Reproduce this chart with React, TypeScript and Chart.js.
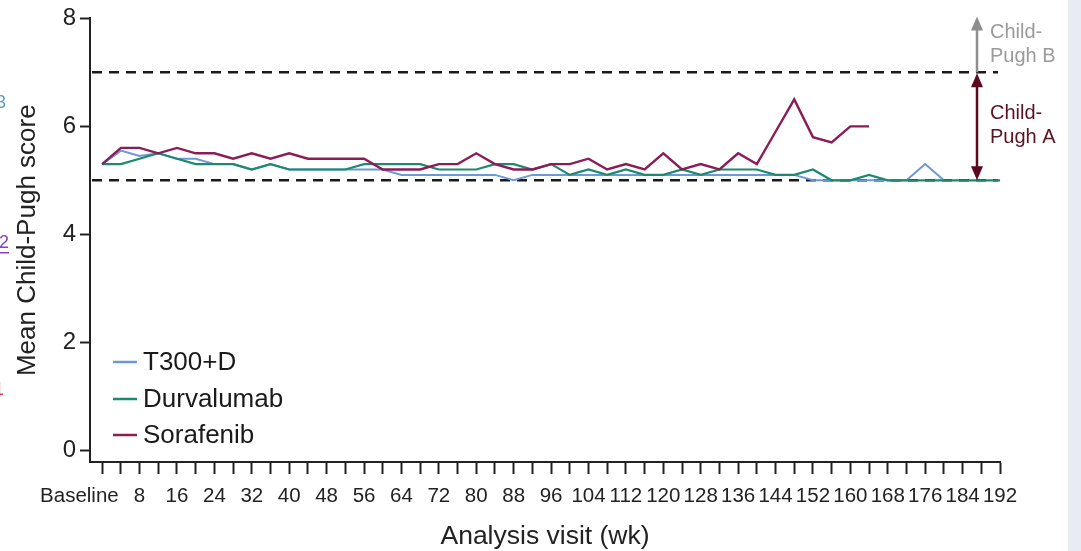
import React, { useEffect, useRef } from "react";
import { Chart, registerables } from "chart.js";

Chart.register(...registerables);

const FONT = "'Liberation Sans', Arial, Helvetica, sans-serif";

const weeks = [
  0, 4, 8, 12, 16, 20, 24, 28, 32, 36, 40, 44, 48, 52, 56, 60, 64, 68, 72, 76, 80, 84, 88, 92, 96,
  100, 104, 108, 112, 116, 120, 124, 128, 132, 136, 140, 144, 148, 152, 156, 160, 164, 168, 172,
  176, 180, 184, 188, 192,
];

const xTickLabels = [
  "Baseline", "", "8", "", "16", "", "24", "", "32", "", "40", "", "48", "", "56", "", "64", "",
  "72", "", "80", "", "88", "", "96", "", "104", "", "112", "", "120", "", "128", "", "136", "",
  "144", "", "152", "", "160", "", "168", "", "176", "", "184", "", "192",
];

const yTicks = [0, 2, 4, 6, 8];

const seriesNames = ["T300+D", "Durvalumab", "Sorafenib"];
const seriesColors = ["#6a9ad6", "#1d8a6f", "#8a1c58"];

// T300+D (weeks 0..180)
const t300dValues = [
  5.3, 5.55, 5.45, 5.5, 5.4, 5.4, 5.3, 5.3, 5.2, 5.3, 5.2, 5.2, 5.2, 5.2, 5.2, 5.2, 5.1, 5.1,
  5.1, 5.1, 5.1, 5.1, 5.0, 5.1, 5.1, 5.1, 5.1, 5.1, 5.1, 5.1, 5.1, 5.1, 5.1, 5.1, 5.1, 5.1,
  5.1, 5.1, 5.0, 5.0, 5.0, 5.0, 5.0, 5.0, 5.3, 5.0,
];

// Durvalumab (weeks 0..192)
const durvalumabValues = [
  5.3, 5.3, 5.4, 5.5, 5.4, 5.3, 5.3, 5.3, 5.2, 5.3, 5.2, 5.2, 5.2, 5.2, 5.3, 5.3, 5.3, 5.3,
  5.2, 5.2, 5.2, 5.3, 5.3, 5.2, 5.3, 5.1, 5.2, 5.1, 5.2, 5.1, 5.1, 5.2, 5.1, 5.2, 5.2, 5.2,
  5.1, 5.1, 5.2, 5.0, 5.0, 5.1, 5.0, 5.0, 5.0, 5.0, 5.0, 5.0, 5.0,
];

// Sorafenib (weeks 0..164)
const sorafenibValues = [
  5.3, 5.6, 5.6, 5.5, 5.6, 5.5, 5.5, 5.4, 5.5, 5.4, 5.5, 5.4, 5.4, 5.4, 5.4, 5.2, 5.2, 5.2,
  5.3, 5.3, 5.5, 5.3, 5.2, 5.2, 5.3, 5.3, 5.4, 5.2, 5.3, 5.2, 5.5, 5.2, 5.3, 5.2, 5.5, 5.3,
  5.9, 6.5, 5.8, 5.7, 6.0, 6.0,
];

const childPughAThreshold = 5;
const childPughBThreshold = 7;

const toPoints = (vals: number[]) => vals.map((v, i) => ({ x: weeks[i], y: v }));

const annotationPlugin = {
  id: "annotations",
  beforeDatasetsDraw(chart: any) {
    const { ctx, chartArea, scales } = chart;
    const y = scales.y;
    ctx.save();
    ctx.strokeStyle = "#1a1a1a";
    ctx.lineWidth = 2.5;
    ctx.setLineDash([10, 7]);
    [childPughAThreshold, childPughBThreshold].forEach((v) => {
      const py = y.getPixelForValue(v);
      ctx.beginPath();
      ctx.moveTo(chartArea.left + 2, py);
      ctx.lineTo(chartArea.right - 2, py);
      ctx.stroke();
    });
    ctx.restore();
  },
  afterDraw(chart: any) {
    const { ctx, chartArea, scales } = chart;
    const y = scales.y;
    const ax = chartArea.right - 23;
    const y5 = y.getPixelForValue(childPughAThreshold);
    const y7 = y.getPixelForValue(childPughBThreshold);
    const y8 = y.getPixelForValue(8);
    const head = (x: number, tip: number, dir: number, color: string) => {
      ctx.fillStyle = color;
      ctx.beginPath();
      ctx.moveTo(x, tip);
      ctx.lineTo(x - 6, tip - dir * 14);
      ctx.lineTo(x + 6, tip - dir * 14);
      ctx.closePath();
      ctx.fill();
    };
    ctx.save();
    ctx.setLineDash([]);
    // Child-Pugh B arrow (grey, up)
    ctx.strokeStyle = "#8e8e8e";
    ctx.lineWidth = 2.5;
    ctx.beginPath();
    ctx.moveTo(ax, y7);
    ctx.lineTo(ax, y8 + 8);
    ctx.stroke();
    head(ax, y8 - 2, -1, "#8e8e8e");
    // Child-Pugh A arrow (maroon, both ways)
    const maroon = "#5a0a1c";
    ctx.strokeStyle = maroon;
    ctx.beginPath();
    ctx.moveTo(ax, y7 + 8);
    ctx.lineTo(ax, y5 - 8);
    ctx.stroke();
    head(ax, y7 + 1, -1, maroon);
    head(ax, y5, 1, maroon);
    // texts
    ctx.font = `20px ${FONT}`;
    ctx.textAlign = "left";
    ctx.textBaseline = "middle";
    ctx.fillStyle = "#9a9a9a";
    ctx.fillText("Child-", ax + 13, 32);
    ctx.fillText("Pugh B", ax + 13, 56);
    ctx.fillStyle = "#5b1222";
    ctx.fillText("Child-", ax + 13, 113);
    ctx.fillText("Pugh A", ax + 13, 137);

    // legend
    const rows = [362, 399, 435];
    ctx.font = `26px ${FONT}`;
    chart.data.datasets
      .slice()
      .sort((a: any, b: any) => a.legendIndex - b.legendIndex)
      .forEach((ds: any, i: number) => {
        ctx.strokeStyle = ds.borderColor;
        ctx.lineWidth = 2.5;
        ctx.beginPath();
        ctx.moveTo(113, rows[i]);
        ctx.lineTo(137, rows[i]);
        ctx.stroke();
        ctx.fillStyle = "#1a1a1a";
        ctx.fillText(ds.label, 143, rows[i] + 1);
      });

    // page artifacts at edges
    ctx.textAlign = "right";
    ctx.font = `18px ${FONT}`;
    ctx.fillStyle = "#5f9fc0";
    ctx.fillText("3", 6, 103);
    ctx.fillStyle = "#8b3fc6";
    ctx.fillText("2", 9, 243);
    ctx.fillRect(0, 252, 9, 1.5);
    ctx.fillStyle = "#e0405a";
    ctx.fillText("1", 4, 390);
    ctx.fillStyle = "#e8ecf2";
    ctx.fillRect(1068, 0, 13, 551);
    ctx.restore();
  },
};

export default function App() {
  const ref = useRef<HTMLCanvasElement | null>(null);

  useEffect(() => {
    document.body.style.margin = "0";
    const canvas = ref.current;
    if (!canvas) return;
    const datasets = [
      { label: seriesNames[0], data: toPoints(t300dValues), borderColor: seriesColors[0], borderWidth: 2, order: 2, legendIndex: 0 },
      { label: seriesNames[1], data: toPoints(durvalumabValues), borderColor: seriesColors[1], borderWidth: 2.2, order: 1, legendIndex: 1 },
      { label: seriesNames[2], data: toPoints(sorafenibValues), borderColor: seriesColors[2], borderWidth: 2.4, order: 0, legendIndex: 2 },
    ];
    const chart = new Chart(canvas, {
      type: "line",
      data: { datasets: datasets as any },
      plugins: [annotationPlugin],
      options: {
        responsive: false,
        devicePixelRatio: 1,
        animation: false,
        layout: { padding: { left: 0, top: 17, right: 81, bottom: 0 } },
        elements: { point: { radius: 0 }, line: { tension: 0, fill: false } },
        plugins: { legend: { display: false }, tooltip: { enabled: false } },
        scales: {
          x: {
            type: "linear",
            min: -2.6,
            max: 192,
            afterBuildTicks: (s: any) => {
              s.ticks = weeks.map((v) => ({ value: v }));
            },
            afterFit: (s: any) => {
              s.height = 89;
            },
            ticks: {
              autoSkip: false,
              maxRotation: 0,
              minRotation: 0,
              color: "#222",
              padding: 10,
              font: { family: FONT, size: 20.5 },
              callback: (value: any) => {
                const i = weeks.indexOf(Number(value));
                if (i < 0) return "";
                return i === 0 ? xTickLabels[i] + "        " : xTickLabels[i];
              },
            },
            grid: { drawOnChartArea: false, drawTicks: true, tickLength: 12, tickColor: "#222", tickWidth: 2 },
            border: { display: true, color: "#222", width: 2 },
            title: {
              display: true,
              text: "Analysis visit (wk)",
              color: "#222",
              font: { family: FONT, size: 26.5 },
              padding: { top: 0, bottom: -2 },
            },
          },
          y: {
            type: "linear",
            min: -0.22,
            max: 8,
            afterBuildTicks: (s: any) => {
              s.ticks = yTicks.map((v) => ({ value: v }));
            },
            afterFit: (s: any) => {
              s.width = 90;
            },
            ticks: { color: "#222", padding: 4, font: { family: FONT, size: 24 } },
            grid: { drawOnChartArea: false, drawTicks: true, tickLength: 10, tickColor: "#222", tickWidth: 2 },
            border: { display: true, color: "#222", width: 2 },
            title: {
              display: true,
              text: "Mean Child-Pugh score",
              color: "#222",
              font: { family: FONT, size: 26 },
              padding: { top: 12, bottom: 0 },
            },
          },
        },
      } as any,
    });
    return () => chart.destroy();
  }, []);

  return (
    <div style={{ width: 1081, height: 551, position: "relative", background: "#fff" }}>
      <canvas ref={ref} width={1081} height={551} style={{ display: "block", width: 1081, height: 551 }} />
    </div>
  );
}
